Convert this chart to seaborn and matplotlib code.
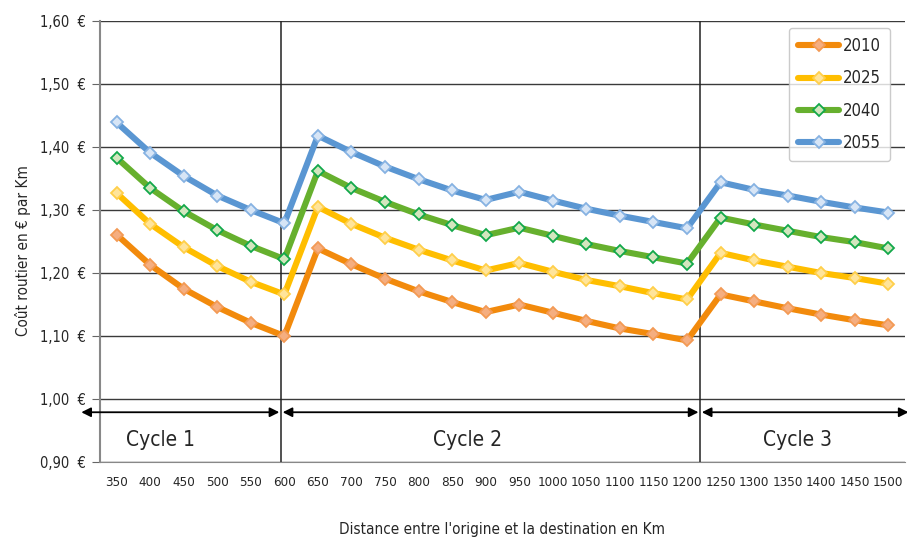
import numpy as np
import pandas as pd
import matplotlib
matplotlib.use("Agg")
import matplotlib.pyplot as plt
import seaborn as sns

# ==========================================
# Data
# ==========================================
distances = [350, 400, 450, 500, 550, 600, 650, 700, 750, 800, 850, 900,
             950, 1000, 1050, 1100, 1150, 1200, 1250, 1300, 1350, 1400, 1450, 1500]

cost_2010 = [1.261, 1.213, 1.175, 1.146, 1.121, 1.100, 1.239, 1.214, 1.191, 1.171, 1.154, 1.138,
             1.150, 1.137, 1.124, 1.112, 1.103, 1.093, 1.166, 1.155, 1.144, 1.134, 1.125, 1.117]
cost_2025 = [1.327, 1.278, 1.241, 1.211, 1.186, 1.166, 1.305, 1.278, 1.256, 1.237, 1.220, 1.204,
             1.216, 1.202, 1.189, 1.179, 1.168, 1.158, 1.232, 1.220, 1.210, 1.200, 1.192, 1.183]
cost_2040 = [1.383, 1.335, 1.298, 1.268, 1.243, 1.222, 1.362, 1.335, 1.313, 1.293, 1.276, 1.260,
             1.272, 1.259, 1.246, 1.235, 1.225, 1.215, 1.288, 1.277, 1.267, 1.257, 1.249, 1.239]
cost_2055 = [1.439, 1.391, 1.354, 1.323, 1.300, 1.279, 1.418, 1.392, 1.369, 1.349, 1.331, 1.316,
             1.329, 1.315, 1.302, 1.291, 1.281, 1.271, 1.344, 1.332, 1.323, 1.313, 1.304, 1.296]

years = ["2010", "2025", "2040", "2055"]
cycle_labels = ["Cycle 1", "Cycle 2", "Cycle 3"]

y_ticks = [0.90, 1.00, 1.10, 1.20, 1.30, 1.40, 1.50, 1.60]

# long-form table for seaborn
series = [cost_2010, cost_2025, cost_2040, cost_2055]
df = pd.concat([
    pd.DataFrame({"pos": np.arange(len(distances)), "distance": distances,
                  "cout": vals, "annee": yr})
    for yr, vals in zip(years, series)
], ignore_index=True)

# ==========================================
# Styling
# ==========================================
sns.set_style("white")
plt.rcParams['font.family'] = ['DejaVu Sans']
plt.rcParams['font.stretch'] = 'condensed'

line_colors = {"2010": "#F28A0C", "2025": "#FFBE00", "2040": "#66B02E", "2055": "#5A96D2"}
marker_face = {"2010": "#F5AE80", "2025": "#FFE49A", "2040": "#D3E6BE", "2055": "#D7E5F6"}
marker_edge = {"2010": "#F39A55", "2025": "#FFCF4A", "2040": "#12A84A", "2055": "#86B2E2"}

fig = plt.figure(figsize=(9.07, 5.40), dpi=100)
ax = fig.add_axes([0.110, 0.1444, 0.888, 0.8167])

for yr in years:
    sub = df[df["annee"] == yr]
    sns.lineplot(data=sub, x="pos", y="cout", ax=ax, color=line_colors[yr],
                 linewidth=4.4, marker="D", markersize=6.5,
                 markerfacecolor=marker_face[yr], markeredgecolor=marker_edge[yr],
                 markeredgewidth=1.3, label=yr, zorder=3)

# axes limits and grid
ax.set_xlim(-0.5, len(distances) - 0.5)
ax.set_ylim(0.90, 1.60)
ax.set_yticks(y_ticks)
ax.set_yticklabels([f"{v:.2f}".replace(".", ",") + "  €" for v in y_ticks], fontsize=10.5)
ax.yaxis.grid(True, color="#3a3a3a", linewidth=1.0)
ax.set_axisbelow(True)

ax.set_xticks(np.arange(len(distances)))
ax.set_xticklabels([str(d) for d in distances], fontsize=9.6)
ax.set_xticks(np.arange(len(distances) + 1) - 0.5, minor=True)
ax.tick_params(axis="x", which="major", length=0, pad=10)
ax.tick_params(axis="x", which="minor", length=5, color="#666666", direction="out")
ax.tick_params(axis="y", length=6, color="#666666", direction="out", left=True, pad=4)

for s in ["top", "right"]:
    ax.spines[s].set_visible(False)
ax.spines["left"].set_color("#888888")
ax.spines["bottom"].set_color("#888888")
ax.spines["left"].set_linewidth(1.5)

ax.set_xlabel("Distance entre l'origine et la destination en Km", fontsize=11, va="center")
ax.xaxis.set_label_coords(0.5, -0.154)
ax.set_ylabel("Coût routier en € par Km", fontsize=11, va="center")
ax.yaxis.set_label_coords(-0.095, 0.48)

# cycle separators
for xv in [4.9, 17.39]:
    ax.axvline(xv, color="#222222", linewidth=1.1, zorder=2)

# cycle arrows and labels
arrow_y = 0.979
spans = [(-1.05, 4.85), (4.95, 17.34), (17.44, 23.6)]
label_x = [1.3, 10.45, 20.3]
for (x0, x1), lx, txt in zip(spans, label_x, cycle_labels):
    ax.annotate("", xy=(x0, arrow_y), xytext=(x1, arrow_y), annotation_clip=False,
                arrowprops=dict(arrowstyle="<|-|>", color="black", lw=1.3,
                                mutation_scale=14, shrinkA=0, shrinkB=0))
    ax.text(lx, 0.935, txt, fontsize=15, ha="center", va="center")

leg = ax.legend(loc="upper right", bbox_to_anchor=(0.981, 0.984), borderaxespad=0,
                frameon=True, fancybox=True, edgecolor="#bfbfbf", fontsize=12,
                handlelength=2.5, labelspacing=0.85, borderpad=0.55, handletextpad=0.2)
leg.get_frame().set_linewidth(1.0)

plt.savefig("out.png", dpi=100)
plt.close()
